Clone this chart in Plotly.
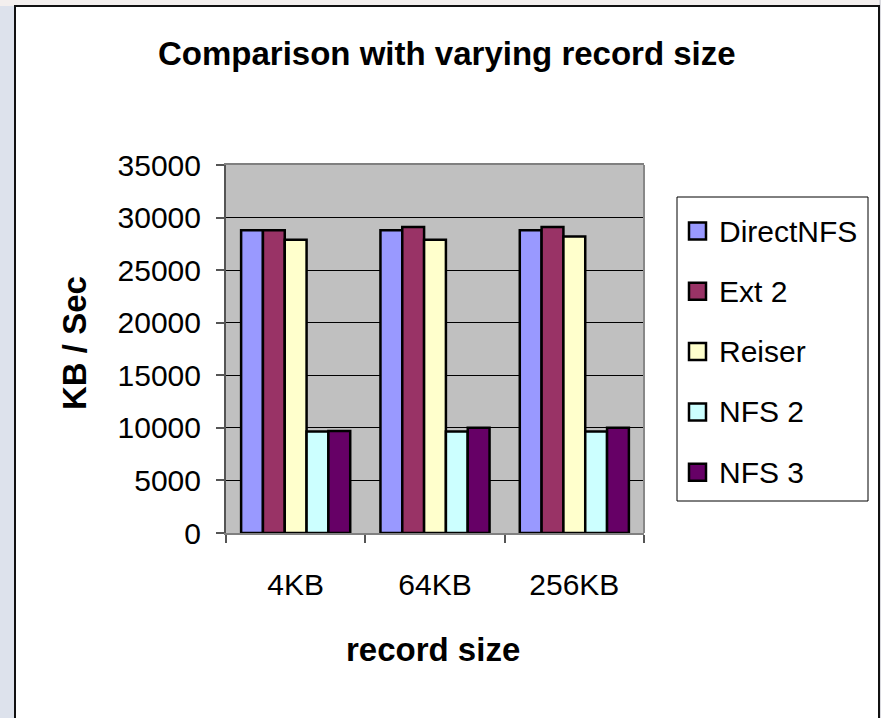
import plotly.graph_objects as go

# ---- data -------------------------------------------------------------
record_sizes = ["4KB", "64KB", "256KB"]
series_names = ["DirectNFS", "Ext 2", "Reiser", "NFS 2", "NFS 3"]
direct_nfs = [28800, 28800, 28800]
ext2 = [28800, 29100, 29100]
reiser = [27900, 27900, 28200]
nfs2 = [9650, 9650, 9650]
nfs3 = [9700, 10000, 10000]
series_values = [direct_nfs, ext2, reiser, nfs2, nfs3]
series_colors = ["#9999FF", "#993366", "#FFFFCC", "#CCFFFF", "#660066"]

y_ticks = [0, 5000, 10000, 15000, 20000, 25000, 30000, 35000]

title_text = "Comparison with varying record size"
y_title = "KB / Sec"
x_title = "record size"

# ---- geometry (pixels) -------------------------------------------------
W, H = 881, 718
PL, PR, PT, PB = 226, 644, 165, 533
FONT = "Liberation Sans, Arial, sans-serif"


def px(x):
    return (x - PL) / (PR - PL)


def py(y):
    return (PB - y) / (PB - PT)


fig = go.Figure()
for name, vals, col in zip(series_names, series_values, series_colors):
    fig.add_trace(go.Bar(
        name=name, x=record_sizes, y=vals,
        marker=dict(color=col, line=dict(color="#000000", width=2.5)),
        showlegend=False,
    ))

shapes = []
# hazy page strips around the white chart box
shapes.append(dict(type="rect", xref="paper", yref="paper", x0=px(0), x1=px(15),
                   y0=py(0), y1=py(H + 5), fillcolor="#DDE2EC", line_width=0, layer="below"))
shapes.append(dict(type="rect", xref="paper", yref="paper", x0=px(0), x1=px(W),
                   y0=py(0), y1=py(6), fillcolor="#F3EFEE", line_width=0, layer="below"))
shapes.append(dict(type="rect", xref="paper", yref="paper", x0=px(879), x1=px(W),
                   y0=py(0), y1=py(H + 5), fillcolor="#D9D9DE", line_width=0, layer="below"))
# chart box border
shapes.append(dict(type="rect", xref="paper", yref="paper", x0=px(15), x1=px(879),
                   y0=py(6), y1=py(H + 10), fillcolor="rgba(0,0,0,0)",
                   line=dict(color="#111111", width=2)))
# right edge of the plot area
shapes.append(dict(type="line", xref="paper", yref="paper", x0=1, x1=1, y0=0, y1=1,
                   line=dict(color="#888888", width=2)))

# legend box with swatches
LX0, LX1, LY0, LY1 = 677, 868, 197, 501
shapes.append(dict(type="rect", xref="paper", yref="paper", x0=px(LX0), x1=px(LX1),
                   y0=py(LY0), y1=py(LY1), fillcolor="#FFFFFF",
                   line=dict(color="#000000", width=1)))
annotations = []
row0, row_step = 231, 60.3
sw = 17
for i, (name, col) in enumerate(zip(series_names, series_colors)):
    cy = row0 + i * row_step
    shapes.append(dict(type="rect", xref="paper", yref="paper",
                       x0=px(689), x1=px(689 + sw), y0=py(cy - sw / 2), y1=py(cy + sw / 2),
                       fillcolor=col, line=dict(color="#000000", width=2.5)))
    annotations.append(dict(xref="paper", yref="paper", x=px(717), y=py(cy),
                            xanchor="left", yanchor="middle", showarrow=False,
                            text=name, font=dict(family=FONT, size=30, color="#000000")))

# titles
BOLD = dict(family=FONT, size=33, color="#000000", weight="bold")
annotations.append(dict(xref="paper", yref="paper", x=px(447), y=py(53),
                        xanchor="center", yanchor="middle", showarrow=False,
                        text=title_text, font=BOLD))
annotations.append(dict(xref="paper", yref="paper", x=px(74), y=py(343),
                        xanchor="center", yanchor="middle", showarrow=False, textangle=-90,
                        text=y_title, font=BOLD))
annotations.append(dict(xref="paper", yref="paper", x=px(433), y=py(649),
                        xanchor="center", yanchor="middle", showarrow=False,
                        text=x_title, font=BOLD))

fig.update_layout(
    width=W, height=H, autosize=False,
    margin=dict(l=PL, r=W - PR, t=PT, b=H - PB, pad=0),
    paper_bgcolor="#FFFFFF",
    plot_bgcolor="#C0C0C0",
    barmode="group",
    bargap=0.217,
    bargroupgap=0,
    showlegend=False,
    shapes=shapes,
    annotations=annotations,
    font=dict(family=FONT, color="#000000"),
)
fig.update_xaxes(
    type="category",
    showline=True, linecolor="#808080", linewidth=2, mirror=True,
    ticks="outside", tickson="boundaries", ticklen=8, tickcolor="#555555", tickwidth=1.5,
    tickfont=dict(family=FONT, size=30, color="#000000"),
    ticklabelstandoff=24,
    showgrid=False, zeroline=False,
)
fig.update_yaxes(
    range=[0, 35000], tickvals=y_ticks, ticktext=[str(v) for v in y_ticks],
    showline=True, linecolor="#555555", linewidth=2,
    ticks="outside", ticklen=8, tickcolor="#555555", tickwidth=1.5,
    tickfont=dict(family=FONT, size=30, color="#000000"),
    ticklabelstandoff=9,
    showgrid=True, gridcolor="#000000", gridwidth=1,
    zeroline=False,
)

fig.write_html("out.html")
